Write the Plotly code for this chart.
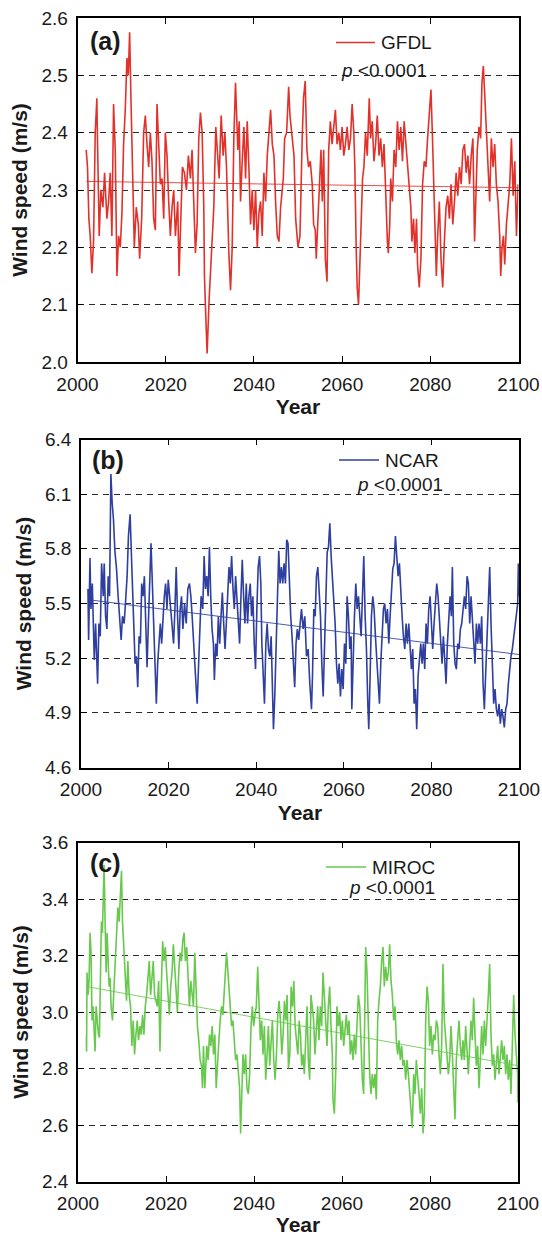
import plotly.graph_objects as go

# ---------------- data ----------------
GFDL = [
    (2001.97, 2.37), (2002.27, 2.34), (2002.58, 2.25), (2002.88, 2.22), (2003.26, 2.155), (2003.64, 2.21), (2004.02, 2.40), (2004.39, 2.46), (2004.55, 2.38), (2004.92, 2.22),
    (2005.30, 2.30), (2005.76, 2.27), (2006.14, 2.33), (2006.67, 2.25), (2007.05, 2.28), (2007.42, 2.33), (2007.80, 2.22), (2008.18, 2.45), (2008.56, 2.37), (2008.94, 2.15),
    (2009.32, 2.22), (2009.70, 2.20), (2010.08, 2.26), (2010.45, 2.38), (2010.83, 2.44), (2011.21, 2.53), (2011.52, 2.50), (2011.82, 2.575), (2012.12, 2.46), (2012.58, 2.31),
    (2012.88, 2.20), (2013.33, 2.27), (2013.79, 2.24), (2014.09, 2.18), (2014.55, 2.25), (2015.00, 2.40), (2015.38, 2.43), (2015.76, 2.38), (2016.14, 2.34), (2016.52, 2.40),
    (2016.89, 2.35), (2017.27, 2.25), (2017.65, 2.23), (2018.03, 2.45), (2018.41, 2.39), (2018.79, 2.31), (2019.17, 2.32), (2019.55, 2.25), (2019.92, 2.40), (2020.30, 2.36),
    (2020.68, 2.28), (2021.06, 2.22), (2021.44, 2.27), (2021.82, 2.30), (2022.20, 2.22), (2022.73, 2.28), (2023.03, 2.15), (2023.48, 2.28), (2023.79, 2.34), (2024.24, 2.33),
    (2024.70, 2.30), (2025.15, 2.36), (2025.61, 2.32), (2025.98, 2.37), (2026.36, 2.29), (2026.74, 2.19), (2027.12, 2.24), (2027.50, 2.39), (2027.88, 2.435), (2028.26, 2.40),
    (2028.64, 2.27), (2028.79, 2.15), (2029.09, 2.08), (2029.39, 2.015), (2029.85, 2.11), (2030.15, 2.15), (2030.61, 2.22), (2030.91, 2.27), (2031.36, 2.41), (2031.67, 2.37),
    (2032.12, 2.32), (2032.58, 2.43), (2033.03, 2.36), (2033.41, 2.40), (2033.79, 2.34), (2034.32, 2.19), (2034.70, 2.125), (2035.08, 2.20), (2035.45, 2.39), (2035.83, 2.487),
    (2036.36, 2.37), (2036.67, 2.42), (2036.97, 2.28), (2037.35, 2.35), (2037.73, 2.41), (2038.11, 2.32), (2038.48, 2.42), (2038.86, 2.34), (2039.24, 2.24), (2039.62, 2.30),
    (2040.00, 2.23), (2040.38, 2.30), (2040.76, 2.20), (2041.14, 2.26), (2041.52, 2.28), (2041.89, 2.22), (2042.27, 2.33), (2042.65, 2.28), (2043.03, 2.36), (2043.41, 2.40),
    (2043.79, 2.44), (2044.17, 2.38), (2044.55, 2.36), (2044.92, 2.28), (2045.30, 2.22), (2045.68, 2.21), (2046.06, 2.27), (2046.67, 2.32), (2046.97, 2.39), (2047.42, 2.40),
    (2047.88, 2.48), (2048.18, 2.43), (2048.48, 2.41), (2049.09, 2.36), (2049.47, 2.25), (2050.00, 2.20), (2050.45, 2.22),
    (2050.65, 2.32), (2050.95, 2.39), (2051.25, 2.46), (2051.63, 2.49), (2052.02, 2.37), (2052.40, 2.34), (2052.78, 2.35), (2053.23, 2.31), (2053.54, 2.24), (2053.92, 2.23),
    (2054.14, 2.18), (2054.45, 2.24), (2054.90, 2.32), (2055.21, 2.37), (2055.51, 2.28), (2055.82, 2.37), (2056.20, 2.18), (2056.58, 2.14), (2056.96, 2.37), (2057.34, 2.42),
    (2057.72, 2.38), (2058.10, 2.41), (2058.48, 2.44), (2058.86, 2.38), (2059.24, 2.40), (2059.62, 2.37), (2060.00, 2.41), (2060.38, 2.36), (2060.76, 2.38), (2061.14, 2.41),
    (2061.52, 2.37), (2061.90, 2.39), (2062.28, 2.45), (2062.66, 2.40), (2062.89, 2.34), (2063.19, 2.20), (2063.42, 2.13), (2063.73, 2.10), (2064.03, 2.18), (2064.33, 2.26),
    (2064.64, 2.32), (2064.94, 2.34), (2065.32, 2.40), (2065.70, 2.36), (2066.16, 2.46), (2066.46, 2.39), (2066.84, 2.42), (2067.22, 2.35), (2067.60, 2.38), (2067.98, 2.43),
    (2068.37, 2.36), (2068.75, 2.39), (2069.13, 2.34), (2069.51, 2.38), (2069.89, 2.29), (2070.27, 2.21), (2070.49, 2.19), (2070.80, 2.24), (2071.03, 2.32), (2071.41, 2.28),
    (2071.79, 2.37), (2072.17, 2.34), (2072.55, 2.42), (2072.93, 2.37), (2073.31, 2.41), (2073.69, 2.35), (2074.07, 2.42), (2074.45, 2.38), (2074.83, 2.34), (2075.21, 2.31),
    (2075.59, 2.27), (2075.82, 2.21), (2076.20, 2.25), (2076.50, 2.19), (2076.88, 2.25), (2077.11, 2.17), (2077.49, 2.13), (2077.87, 2.18), (2078.25, 2.31), (2078.63, 2.35),
    (2079.01, 2.34), (2079.39, 2.39), (2079.77, 2.43), (2080.15, 2.475), (2080.46, 2.40), (2080.76, 2.30), (2081.06, 2.22), (2081.37, 2.15), (2081.67, 2.22), (2082.05, 2.28),
    (2082.43, 2.18), (2082.81, 2.13), (2083.19, 2.21), (2083.57, 2.27), (2083.95, 2.29), (2084.33, 2.25), (2084.71, 2.31), (2085.10, 2.24), (2085.48, 2.28), (2085.86, 2.33),
    (2086.24, 2.29), (2086.62, 2.34), (2087.00, 2.31), (2087.38, 2.37), (2087.76, 2.38), (2088.14, 2.33), (2088.52, 2.36), (2088.90, 2.31), (2089.28, 2.36), (2089.66, 2.39),
    (2090.04, 2.21), (2090.27, 2.28), (2090.65, 2.37), (2091.03, 2.41), (2091.41, 2.39), (2091.71, 2.487), (2092.02, 2.516), (2092.32, 2.47), (2092.70, 2.41), (2093.08, 2.36),
    (2093.46, 2.28), (2093.84, 2.39), (2094.22, 2.34), (2094.60, 2.38), (2094.98, 2.31), (2095.36, 2.28), (2095.74, 2.22), (2095.97, 2.15), (2096.27, 2.20), (2096.58, 2.22),
    (2096.88, 2.17), (2097.26, 2.24), (2097.64, 2.27), (2098.02, 2.31), (2098.40, 2.39), (2098.78, 2.29), (2099.16, 2.35), (2099.54, 2.22), (2099.92, 2.31),
]

NCAR = [
    (2001.59, 5.58), (2001.74, 5.30), (2002.05, 5.75), (2002.27, 5.47), (2002.58, 5.61), (2002.80, 5.39), (2003.03, 5.19), (2003.33, 5.39), (2003.56, 5.14), (2003.79, 5.06),
    (2004.09, 5.39), (2004.39, 5.32), (2004.70, 5.72), (2005.08, 5.54), (2005.30, 5.72), (2005.61, 5.43), (2005.91, 5.36), (2006.21, 5.65), (2006.52, 5.54), (2006.82, 6.21),
    (2007.12, 6.05), (2007.42, 5.96), (2007.73, 5.79), (2008.11, 5.69), (2008.48, 5.54), (2008.86, 5.39), (2009.17, 5.30), (2009.47, 5.43), (2009.85, 5.39), (2010.15, 5.50),
    (2010.53, 5.65), (2010.83, 5.87), (2011.21, 5.99), (2011.52, 5.76), (2011.82, 5.50), (2012.05, 5.39), (2012.35, 5.17), (2012.65, 5.21), (2012.95, 5.04), (2013.26, 5.32),
    (2013.56, 5.28), (2013.86, 5.61), (2014.17, 5.54), (2014.47, 5.65), (2014.77, 5.43), (2015.08, 5.15), (2015.38, 5.39), (2015.68, 5.59), (2015.98, 5.83), (2016.29, 5.61),
    (2016.59, 5.39), (2016.89, 5.06), (2017.20, 4.95), (2017.50, 5.17), (2017.80, 5.28), (2018.11, 5.39), (2018.41, 5.28), (2018.71, 5.43), (2019.02, 5.54), (2019.32, 5.61),
    (2019.62, 5.47), (2019.92, 5.63), (2020.23, 5.54), (2020.53, 5.43), (2020.83, 5.39), (2021.14, 5.28), (2021.44, 5.47), (2021.74, 5.70), (2022.05, 5.43), (2022.35, 5.25),
    (2022.65, 5.47), (2022.95, 5.54), (2023.26, 5.36), (2023.64, 5.50), (2024.02, 5.39), (2024.39, 5.58), (2024.77, 5.61), (2025.08, 5.54), (2025.38, 5.43), (2025.68, 5.28),
    (2025.98, 5.14), (2026.29, 5.04), (2026.52, 4.95), (2026.82, 5.19), (2027.12, 5.43), (2027.42, 5.54), (2027.80, 5.47), (2028.11, 5.76), (2028.41, 5.58), (2028.71, 5.65),
    (2029.02, 5.54), (2029.32, 5.81), (2029.62, 5.54), (2029.92, 5.36), (2030.23, 5.28), (2030.45, 5.08), (2030.76, 5.28), (2031.06, 5.21), (2031.36, 5.43), (2031.67, 5.28),
    (2031.97, 5.43), (2032.27, 5.56), (2032.58, 5.39), (2032.88, 5.25), (2033.18, 5.39), (2033.48, 5.54), (2033.79, 5.70), (2034.09, 5.61), (2034.39, 5.76), (2034.70, 5.58),
    (2035.00, 5.47), (2035.30, 5.65), (2035.61, 5.54), (2035.91, 5.39), (2036.21, 5.28), (2036.52, 5.54), (2036.82, 5.74), (2037.12, 5.54), (2037.42, 5.39), (2037.73, 5.61),
    (2038.03, 5.39), (2038.33, 5.54), (2038.64, 5.61), (2038.94, 5.43), (2039.24, 5.54), (2039.55, 5.28), (2039.85, 5.14), (2040.15, 5.47), (2040.45, 5.70), (2040.76, 5.76),
    (2041.06, 5.61), (2041.29, 5.28), (2041.59, 5.14), (2041.89, 4.95), (2042.20, 5.28), (2042.50, 5.39), (2042.80, 5.25), (2043.11, 5.21), (2043.41, 5.32), (2043.71, 4.92),
    (2043.94, 4.81), (2044.24, 4.99), (2044.55, 5.25), (2044.85, 5.54), (2045.15, 5.79), (2045.45, 5.61), (2045.76, 5.70), (2046.06, 5.61), (2046.36, 5.72), (2046.67, 5.61),
    (2046.97, 5.85), (2047.27, 5.83), (2047.58, 5.61), (2047.88, 5.43), (2048.18, 5.32), (2048.48, 5.21), (2048.79, 5.04), (2049.09, 5.28), (2049.39, 5.36), (2049.70, 5.30),
    (2049.96, 5.39), (2050.34, 5.47), (2050.72, 5.36), (2051.10, 5.43), (2051.48, 5.21), (2051.86, 5.25), (2052.24, 5.06), (2052.62, 4.92), (2052.85, 5.10), (2053.16, 5.47),
    (2053.46, 5.43), (2053.76, 5.65), (2054.07, 5.70), (2054.37, 5.54), (2054.68, 5.43), (2054.98, 5.17), (2055.29, 4.99), (2055.59, 5.25), (2055.89, 5.54), (2056.20, 5.78),
    (2056.50, 5.81), (2056.81, 5.94), (2057.11, 5.76), (2057.41, 5.65), (2057.72, 5.54), (2058.02, 5.39), (2058.33, 5.17), (2058.63, 5.06), (2058.94, 5.17), (2059.24, 4.99),
    (2059.54, 5.14), (2059.85, 5.03), (2060.15, 5.28), (2060.46, 5.17), (2060.76, 5.54), (2061.06, 5.43), (2061.37, 5.25), (2061.67, 5.32), (2061.83, 4.92), (2062.13, 5.25),
    (2062.43, 5.43), (2062.74, 5.61), (2063.04, 5.47), (2063.35, 5.54), (2063.65, 5.43), (2063.95, 5.32), (2064.26, 5.54), (2064.56, 5.76), (2064.87, 5.43), (2065.17, 5.25),
    (2065.48, 4.95), (2065.70, 4.81), (2066.01, 5.10), (2066.31, 5.43), (2066.62, 5.54), (2066.92, 5.47), (2067.22, 5.32), (2067.53, 5.17), (2067.83, 5.03), (2068.14, 4.95),
    (2068.44, 5.17), (2068.75, 5.36), (2069.05, 5.47), (2069.35, 5.50), (2069.66, 5.39), (2069.96, 5.47), (2070.27, 5.28), (2070.57, 5.43), (2070.87, 5.54), (2071.18, 5.69),
    (2071.48, 5.72), (2071.79, 5.87), (2072.09, 5.76), (2072.40, 5.65), (2072.70, 5.72), (2073.00, 5.54), (2073.31, 5.43), (2073.61, 5.32), (2073.92, 5.25), (2074.22, 5.39),
    (2074.52, 5.28), (2074.83, 5.39), (2075.13, 5.28), (2075.44, 5.14), (2075.74, 5.25), (2076.05, 4.95), (2076.35, 5.03), (2076.65, 4.81), (2076.96, 5.10), (2077.26, 5.21),
    (2077.57, 5.28), (2077.87, 5.17), (2078.17, 5.28), (2078.48, 5.14), (2078.78, 5.39), (2079.09, 5.28), (2079.39, 5.47), (2079.70, 5.54), (2080.00, 5.39), (2080.30, 5.25),
    (2080.61, 5.39), (2080.91, 5.54), (2081.22, 5.61), (2081.52, 5.54), (2081.83, 5.39), (2082.13, 5.28), (2082.43, 5.17), (2082.74, 5.32), (2083.04, 5.17), (2083.35, 5.06),
    (2083.65, 5.28), (2083.95, 5.39), (2084.26, 5.54), (2084.56, 5.43), (2084.79, 5.70), (2085.10, 5.28), (2085.40, 5.17), (2085.70, 5.14), (2086.01, 5.28), (2086.31, 5.25),
    (2086.62, 5.36), (2086.92, 5.39), (2087.22, 5.47), (2087.53, 5.54), (2087.83, 5.47), (2088.14, 5.65), (2088.44, 5.61), (2088.75, 5.39), (2089.05, 5.54), (2089.35, 5.43),
    (2089.66, 5.28), (2089.96, 5.17), (2090.27, 5.39), (2090.57, 5.28), (2090.87, 5.39), (2091.18, 5.28), (2091.48, 5.43), (2091.79, 5.06), (2092.09, 4.92), (2092.40, 5.10),
    (2092.70, 5.28), (2093.00, 5.54), (2093.31, 5.70), (2093.61, 5.39), (2093.92, 5.17), (2094.22, 4.95), (2094.52, 5.03), (2094.83, 4.92), (2095.13, 4.88), (2095.44, 4.95),
    (2095.74, 4.84), (2096.05, 4.92), (2096.35, 4.88), (2096.65, 4.82), (2096.96, 4.92), (2097.26, 4.95), (2097.57, 5.06), (2097.87, 5.14), (2098.17, 5.21), (2098.48, 5.25),
    (2098.78, 5.32), (2099.09, 5.39), (2099.39, 5.43), (2099.70, 5.50), (2099.85, 5.72), (2100.00, 5.54),
]

MIROC = [
    (2001.90, 2.91), (2001.95, 2.86), (2002.05, 3.14), (2002.28, 3.06), (2002.51, 3.11), (2002.74, 3.28), (2002.97, 3.21), (2003.19, 2.97), (2003.42, 3.02), (2003.65, 2.95),
    (2003.88, 2.86), (2004.11, 3.02), (2004.33, 2.97), (2004.64, 2.92), (2004.87, 2.91), (2005.10, 3.11), (2005.32, 3.32), (2005.55, 3.28), (2005.78, 3.50), (2005.93, 3.52),
    (2006.16, 3.32), (2006.39, 3.14), (2006.62, 3.28), (2006.84, 3.15), (2007.07, 3.09), (2007.30, 3.12), (2007.53, 3.02), (2007.83, 2.97), (2008.14, 3.06), (2008.44, 3.18),
    (2008.75, 3.25), (2009.05, 3.37), (2009.35, 3.32), (2009.66, 3.44), (2009.89, 3.50), (2010.11, 3.32), (2010.42, 3.21), (2010.72, 3.14), (2011.03, 3.04), (2011.33, 3.18),
    (2011.63, 3.06), (2011.94, 3.02), (2012.24, 2.88), (2012.55, 2.97), (2012.85, 2.85), (2013.16, 2.92), (2013.46, 2.97), (2013.76, 2.90), (2014.07, 2.95), (2014.37, 2.92),
    (2014.68, 2.99), (2014.98, 2.92), (2015.29, 3.02), (2015.59, 3.06), (2015.89, 3.11), (2016.20, 3.18), (2016.50, 3.06), (2016.81, 3.14), (2017.11, 3.18), (2017.41, 3.06),
    (2017.72, 3.04), (2018.02, 3.02), (2018.33, 3.11), (2018.63, 2.86), (2018.94, 3.09), (2019.24, 3.25), (2019.54, 3.18), (2019.85, 3.23), (2020.15, 3.14), (2020.46, 3.06),
    (2020.76, 2.99), (2021.06, 3.09), (2021.37, 3.14), (2021.67, 3.24), (2021.98, 3.16), (2022.28, 3.09), (2022.59, 3.00), (2022.89, 3.14), (2023.19, 3.21), (2023.50, 3.18),
    (2023.80, 3.25), (2024.11, 3.28), (2024.41, 3.18), (2024.71, 3.23), (2025.02, 3.09), (2025.32, 3.02), (2025.63, 3.11), (2025.93, 3.06), (2026.24, 3.02), (2026.54, 3.21),
    (2026.84, 3.06), (2027.15, 2.95), (2027.45, 2.90), (2027.76, 2.83), (2028.06, 2.81), (2028.29, 2.73), (2028.52, 2.88), (2028.82, 2.73), (2029.05, 2.81), (2029.28, 2.88),
    (2029.58, 2.83), (2029.89, 2.92), (2030.19, 2.88), (2030.49, 2.95), (2030.80, 2.85), (2031.10, 2.92), (2031.41, 2.73), (2031.71, 2.83), (2032.02, 2.90), (2032.32, 2.97),
    (2032.62, 3.02), (2032.93, 2.99), (2033.23, 3.09), (2033.54, 3.18), (2033.76, 3.21), (2033.99, 3.16), (2034.30, 3.09), (2034.60, 3.02), (2034.90, 2.95), (2035.21, 2.97),
    (2035.51, 2.88), (2035.82, 2.83), (2036.12, 2.85), (2036.43, 2.78), (2036.73, 2.73), (2036.96, 2.57), (2037.19, 2.71), (2037.49, 2.85), (2037.79, 2.78), (2038.10, 2.85),
    (2038.40, 2.73), (2038.71, 2.71), (2039.01, 2.78), (2039.32, 2.95), (2039.62, 3.02), (2039.92, 2.95), (2040.23, 2.99), (2040.53, 3.02), (2040.84, 3.16), (2041.14, 3.02),
    (2041.44, 2.90), (2041.75, 2.97), (2042.05, 2.85), (2042.36, 2.95), (2042.66, 2.76), (2042.97, 2.85), (2043.27, 2.95), (2043.57, 2.81), (2043.88, 2.90), (2044.18, 2.97),
    (2044.49, 2.83), (2044.79, 2.76), (2045.10, 2.85), (2045.40, 2.99), (2045.70, 3.04), (2046.01, 2.97), (2046.31, 2.85), (2046.62, 2.92), (2046.92, 3.04), (2047.22, 2.97),
    (2047.53, 3.06), (2047.83, 2.80), (2048.14, 2.85), (2048.44, 3.09), (2048.75, 3.02), (2049.05, 3.11), (2049.35, 2.95), (2049.66, 2.88), (2049.96, 2.85), (2050.27, 2.97),
    (2050.57, 2.92), (2050.83, 2.81), (2051.14, 2.85), (2051.44, 2.78), (2051.74, 2.90), (2052.05, 3.02), (2052.35, 2.83), (2052.65, 2.76), (2052.95, 3.06), (2053.26, 3.02),
    (2053.56, 2.97), (2053.86, 2.85), (2054.17, 2.92), (2054.47, 3.02), (2054.77, 2.90), (2055.08, 3.02), (2055.38, 2.95), (2055.68, 3.14), (2055.98, 3.06), (2056.29, 2.97),
    (2056.59, 2.88), (2056.89, 3.02), (2057.20, 3.09), (2057.50, 2.95), (2057.80, 2.85), (2057.95, 2.69), (2058.26, 2.64), (2058.56, 2.78), (2058.86, 3.02), (2059.17, 2.95),
    (2059.47, 3.00), (2059.77, 2.90), (2060.08, 2.97), (2060.38, 2.88), (2060.68, 2.95), (2060.98, 2.99), (2061.29, 2.92), (2061.59, 2.97), (2061.89, 2.85), (2062.20, 2.90),
    (2062.50, 2.83), (2062.80, 2.92), (2063.11, 2.85), (2063.41, 2.97), (2063.71, 3.06), (2064.02, 3.02), (2064.32, 2.88), (2064.62, 2.76), (2064.92, 2.71), (2065.23, 3.02),
    (2065.38, 3.23), (2065.68, 3.14), (2065.98, 2.95), (2066.29, 2.78), (2066.59, 2.71), (2066.89, 2.78), (2067.20, 2.73), (2067.50, 2.78), (2067.80, 2.69), (2068.11, 2.97),
    (2068.41, 3.04), (2068.71, 3.09), (2069.02, 3.18), (2069.32, 3.23), (2069.62, 3.09), (2069.92, 3.16), (2070.23, 3.11), (2070.53, 3.14), (2070.83, 3.24), (2071.14, 3.11),
    (2071.44, 3.06), (2071.74, 2.97), (2072.05, 3.02), (2072.35, 2.90), (2072.65, 2.85), (2072.95, 2.90), (2073.26, 2.83), (2073.56, 2.88), (2073.86, 2.81), (2074.17, 2.83),
    (2074.47, 2.76), (2074.77, 2.83), (2075.08, 2.78), (2075.38, 2.71), (2075.68, 2.66), (2075.98, 2.59), (2076.29, 2.78), (2076.59, 2.71), (2076.89, 2.83), (2077.20, 2.78),
    (2077.50, 2.71), (2077.80, 2.64), (2078.11, 2.73), (2078.41, 2.57), (2078.71, 2.64), (2079.02, 2.97), (2079.32, 3.09), (2079.62, 3.04), (2079.92, 2.88), (2080.23, 2.95),
    (2080.53, 2.85), (2080.83, 2.92), (2081.14, 2.90), (2081.44, 2.97), (2081.74, 2.95), (2082.05, 2.85), (2082.35, 2.78), (2082.65, 2.88), (2082.95, 3.17), (2083.26, 2.97),
    (2083.56, 2.90), (2083.86, 2.83), (2084.17, 2.78), (2084.47, 2.83), (2084.77, 2.95), (2085.08, 2.85), (2085.38, 2.71), (2085.68, 2.62), (2085.98, 2.83), (2086.29, 2.92),
    (2086.59, 2.97), (2086.89, 2.88), (2087.20, 2.83), (2087.50, 2.90), (2087.80, 2.83), (2088.11, 2.95), (2088.41, 2.85), (2088.71, 2.78), (2089.02, 2.88), (2089.32, 2.97),
    (2089.62, 2.90), (2089.92, 3.05), (2090.23, 2.92), (2090.53, 2.81), (2090.83, 2.88), (2091.14, 2.73), (2091.44, 2.83), (2091.74, 2.95), (2092.05, 2.85), (2092.35, 2.97),
    (2092.65, 2.88), (2092.95, 2.95), (2093.26, 3.06), (2093.56, 3.17), (2093.86, 2.92), (2094.17, 2.81), (2094.47, 2.85), (2094.77, 2.76), (2095.08, 2.83), (2095.38, 2.88),
    (2095.68, 2.78), (2095.98, 2.85), (2096.29, 2.90), (2096.59, 2.83), (2096.89, 2.88), (2097.20, 2.78), (2097.50, 2.85), (2097.80, 2.76), (2098.11, 2.83), (2098.41, 2.71),
    (2098.71, 2.88), (2099.02, 3.06), (2099.32, 2.92), (2099.62, 2.83), (2099.92, 2.78), (2100.00, 2.68),
]

TREND_YEARS = [2002, 2100]
GFDL_TREND = [2.315, 2.304]
NCAR_TREND = [5.52, 5.22]
MIROC_TREND = [3.09, 2.81]

MODEL_NAMES = ["GFDL", "NCAR", "MIROC"]
PANEL_LETTERS = ["(a)", "(b)", "(c)"]
Y_RANGES = [[2.0, 2.6], [4.6, 6.4], [2.4, 3.6]]
Y_STEPS = [0.1, 0.3, 0.2]
X_RANGE = [2000, 2100]
X_STEP = 20

# ---------------- styling / layout ----------------
W, H = 542, 1236
FONT = "Liberation Sans, Arial, Helvetica, sans-serif"
COLORS = ["#E2312A", "#2E3FA0", "#68C94E"]
# pixel boxes of the three plot areas: (left, right, top, bottom)
BOXES = [(77.5, 518.5, 18, 362), (81, 519, 439.5, 767.5), (78, 518, 842.5, 1181.5)]
LEG = [  # legend line x0, x1, y ; p-text x, y
    (336, 375, 42.5, 339, 70),
    (339, 379, 460, 355, 485),
    (326, 366, 867, 347, 887),
]
LETTER_POS = [(88, 41), (90.5, 460), (88, 863)]


def px(x):
    return x / W


def py(y):
    return 1 - y / H


series = [GFDL, NCAR, MIROC]
trends = [GFDL_TREND, NCAR_TREND, MIROC_TREND]

fig = go.Figure()
annotations = []
shapes = []
layout = {}

for i in range(3):
    xs = [p[0] for p in series[i]]
    ys = [p[1] for p in series[i]]
    xa = "x" if i == 0 else f"x{i+1}"
    ya = "y" if i == 0 else f"y{i+1}"
    fig.add_trace(go.Scatter(x=xs, y=ys, mode="lines", xaxis=xa, yaxis=ya,
                             line=dict(color=COLORS[i], width=1.6), showlegend=False,
                             name=MODEL_NAMES[i]))
    fig.add_trace(go.Scatter(x=TREND_YEARS, y=trends[i], mode="lines", xaxis=xa, yaxis=ya,
                             line=dict(color=COLORS[i], width=1), opacity=0.85,
                             showlegend=False))
    l, r, t, b = BOXES[i]
    xkey = "xaxis" if i == 0 else f"xaxis{i+1}"
    ykey = "yaxis" if i == 0 else f"yaxis{i+1}"
    layout[xkey] = dict(
        domain=[px(l), px(r)], anchor=ya, range=X_RANGE, dtick=X_STEP, tick0=2000,
        ticks="inside", ticklen=6, tickwidth=1.2, tickcolor="black",
        showline=True, linecolor="black", linewidth=1.6, mirror="ticks",
        showgrid=False, zeroline=False, automargin=False,
        tickfont=dict(family=FONT, size=19, color="#1a1a1a"),
        ticklabelstandoff=4,
        title=dict(text="<b>Year</b>", font=dict(family=FONT, size=21, color="#1a1a1a"), standoff=6),
    )
    lo, hi = Y_RANGES[i]
    layout[ykey] = dict(
        domain=[py(b), py(t)], anchor=xa, range=[lo, hi], dtick=Y_STEPS[i], tick0=lo,
        tickformat=".1f",
        ticks="inside", ticklen=6, tickwidth=1.2, tickcolor="black",
        showline=True, linecolor="black", linewidth=1.6, mirror="ticks",
        showgrid=True, gridcolor="#2a2a2a", gridwidth=1.1, griddash="6px,5px",
        zeroline=False, automargin=False,
        tickfont=dict(family=FONT, size=19, color="#1a1a1a"),
        ticklabelstandoff=4,
        title=dict(text="<b>Wind speed (m/s)</b>", font=dict(family=FONT, size=21, color="#1a1a1a"), standoff=8),
    )
    x0, x1, yl, xp, yp = LEG[i]
    shapes.append(dict(type="line", xref="paper", yref="paper", x0=px(x0), x1=px(x1),
                       y0=py(yl), y1=py(yl), line=dict(color=COLORS[i], width=1.3)))
    annotations.append(dict(xref="paper", yref="paper", x=px(x1 + 4), y=py(yl),
                            xanchor="left", yanchor="middle", showarrow=False,
                            text=MODEL_NAMES[i], font=dict(family=FONT, size=19, color="#1a1a1a")))
    annotations.append(dict(xref="paper", yref="paper", x=px(xp), y=py(yp),
                            xanchor="left", yanchor="middle", showarrow=False,
                            text="<i>p</i> &lt;0.0001", font=dict(family=FONT, size=19, color="#1a1a1a")))
    lx, ly = LETTER_POS[i]
    annotations.append(dict(xref="paper", yref="paper", x=px(lx), y=py(ly),
                            xanchor="left", yanchor="middle", showarrow=False,
                            text=f"<b>{PANEL_LETTERS[i]}</b>",
                            font=dict(family=FONT, size=25, color="#1a1a1a")))

fig.update_layout(
    width=W, height=H, margin=dict(l=0, r=0, t=0, b=0),
    paper_bgcolor="white", plot_bgcolor="white",
    font=dict(family=FONT, color="#1a1a1a"),
    annotations=annotations, shapes=shapes, showlegend=False,
    **layout,
)

fig.write_html(
    "out.html",
    config={"displayModeBar": False},
    post_script="document.body.style.margin='0';document.body.style.overflow='hidden';",
)
